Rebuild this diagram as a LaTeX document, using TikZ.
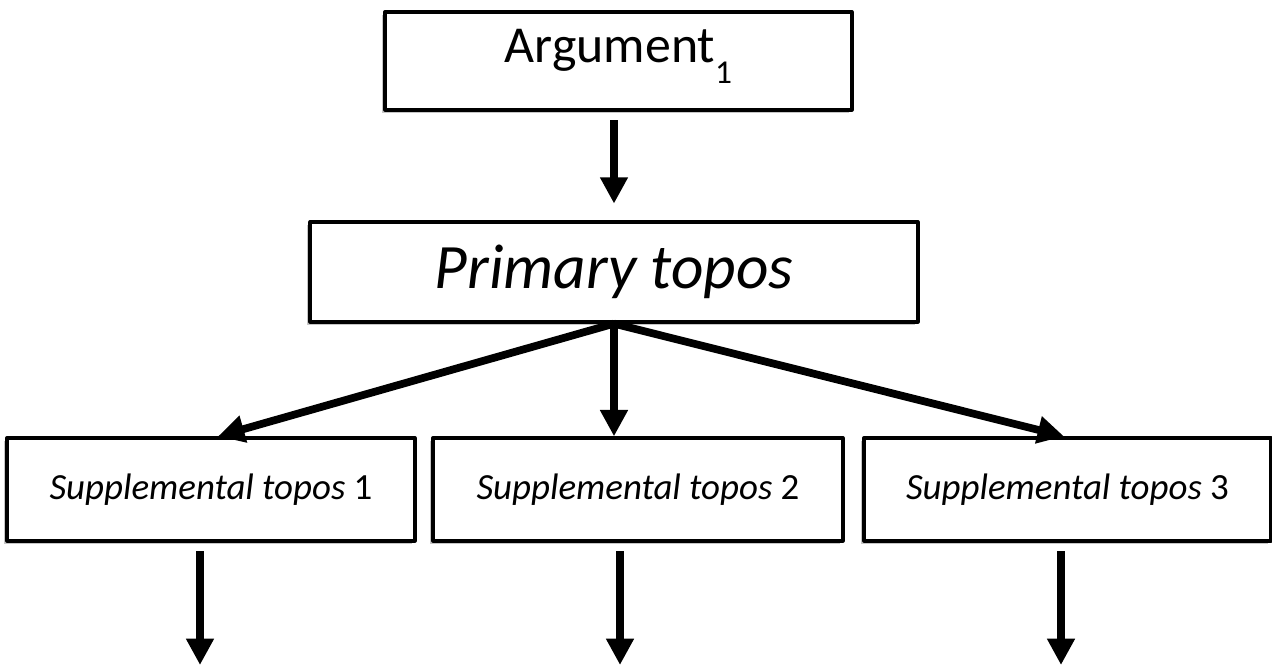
\documentclass[tikz,border=0pt]{standalone}
\usepackage{fontspec}
\setmainfont{Carlito}
\usetikzlibrary{arrows.meta,shadows}
\begin{document}
\begin{tikzpicture}[x=0.02cm, y=0.02cm, line join=round,
	box/.style={draw, line width=1.9pt, fill=white, inner sep=0pt,
		minimum height=2cm,
		drop shadow={opacity=0.45, shadow xshift=-1.6pt, shadow yshift=-1.6pt}},
	arr/.style={line width=4.4pt, -{Triangle[width=15pt,length=15pt]}}]
	\def\ytop{605} \def\ymid{394} \def\ylow{176.5}
	\useasboundingbox (0,0) rectangle (1272,666);
	% boxes
	\node[box, minimum width=9.34cm, minimum height=1.96cm] (arg) at (618.5,\ytop)
		{\raisebox{2.5pt}[\height][\depth]{\fontsize{29.5}{32}\selectfont Argument\raisebox{-12pt}{\fontsize{19}{22}\selectfont 1}}};
	\node[box, minimum width=12.16cm] (prim) at (614,\ymid)
		{\fontsize{36}{40}\selectfont\itshape Primary topos};
	\node[box, minimum width=8.16cm, minimum height=2.06cm] (sup1) at (211,\ylow)
		{\fontsize{21}{25}\selectfont\textit{Supplemental topos} 1};
	\node[box, minimum width=8.2cm, minimum height=2.06cm] (sup2) at (638,\ylow)
		{\fontsize{21}{25}\selectfont\textit{Supplemental topos} 2};
	\node[box, minimum width=8.14cm, minimum height=2.06cm] (sup3) at (1067.5,\ylow)
		{\fontsize{21}{25}\selectfont\textit{Supplemental topos} 3};
	% free ends of the lower arrows
	\coordinate (e1) at (200,1);
	\coordinate (e2) at (620,1);
	\coordinate (e3) at (1061,1);
	% arrows
	\draw[arr, shorten <=12pt*0.4, shorten >=17pt*0.56] (arg.south -| prim.south) -- (prim.north);
	\draw[arr] (prim.south) -- ([xshift=4]sup1.north);
	\draw[arr] (prim.south) -- (sup2.north -| prim.south);
	\draw[arr] (prim.south) -- ([xshift=-2]sup3.north);
	\draw[arr, shorten <=5pt] (sup1.south -| e1) -- (e1);
	\draw[arr, shorten <=5pt] (sup2.south -| e2) -- (e2);
	\draw[arr, shorten <=5pt] (sup3.south -| e3) -- (e3);
\end{tikzpicture}
\end{document}
